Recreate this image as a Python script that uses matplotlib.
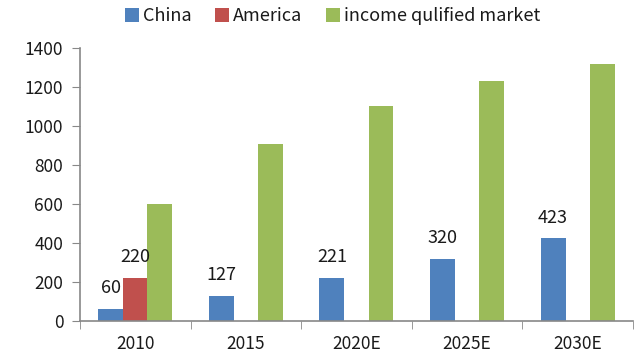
import matplotlib
matplotlib.use("Agg")
import matplotlib.pyplot as plt
import numpy as np

# ── Data ──────────────────────────────────────────────────────────────────────
years = ["2010", "2015", "2020E", "2025E", "2030E"]
china = [60, 127, 221, 320, 423]
america = [220, 0, 0, 0, 0]
market = [600, 910, 1100, 1230, 1320]

plt.rcParams["font.family"] = ["Noto Sans CJK KR", "DejaVu Sans"]

fig = plt.figure(figsize=(6.4, 3.61), dpi=100)
ax = fig.add_axes([0.125, 0.111, 0.864, 0.756])

x = np.arange(len(years))
w = 0.225
off = 0.222
ax.bar(x - off, china, w, color="#4F81BD", linewidth=0, label="China")
ax.bar(x, america, w, color="#C0504D", linewidth=0, label="America")
ax.bar(x + off, market, w, color="#9BBB59", linewidth=0, label="income qulified market")

# value labels (China + America only)
for xi, v in zip(x, china):
    ax.annotate(str(v), (xi - off, v), xytext=(0, 15), textcoords="offset points",
                ha="center", va="center", fontsize=13, color="#1a1a1a")
for xi, v in zip(x, america):
    if v:
        ax.annotate(str(v), (xi, v), xytext=(0, 15), textcoords="offset points",
                    ha="center", va="center", fontsize=13, color="#1a1a1a")

ax.set_xlim(-0.5, len(years) - 0.5)
ax.set_ylim(0, 1400)
ax.set_yticks(range(0, 1401, 200))
ax.set_xticks(x)
ax.set_xticklabels(years)
ax.set_xticks(np.arange(-0.5, len(years)), minor=True)
ax.tick_params(axis="x", which="major", length=0, pad=10, labelsize=12.5, labelcolor="#1a1a1a")
ax.tick_params(axis="x", which="minor", length=6, color="#888888")
ax.tick_params(axis="y", length=6, color="#888888", labelsize=12.5, pad=6, labelcolor="#1a1a1a")

for s in ["top", "right"]:
    ax.spines[s].set_visible(False)
for s in ["left", "bottom"]:
    ax.spines[s].set_color("#888888")
    ax.spines[s].set_linewidth(1.2)

fig.legend(loc="upper center", bbox_to_anchor=(0.52, 1.025), ncol=3, frameon=False,
           fontsize=13, handlelength=0.75, handleheight=0.75, handletextpad=0.25,
           columnspacing=1.3, labelcolor="#1a1a1a")

fig.savefig("out.png", dpi=100)
